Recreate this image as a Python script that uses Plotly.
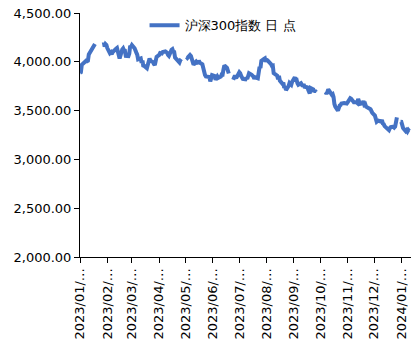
import pandas as pd
import plotly.graph_objects as go

series_name = "沪深300指数 日 点"

# Non-trading weekdays (exchange holidays)
holidays = [
    "2023-01-02", "2023-01-23", "2023-01-24", "2023-01-25", "2023-01-26", "2023-01-27",
    "2023-04-05", "2023-05-01", "2023-05-02", "2023-05-03", "2023-06-22", "2023-06-23",
    "2023-09-29", "2023-10-02", "2023-10-03", "2023-10-04", "2023-10-05", "2023-10-06",
    "2024-01-01",
]
# Long breaks shown as gaps in the line
gap_dates = ["2023-01-23", "2023-05-01", "2023-06-22", "2023-10-02", "2024-01-01"]

close_2023_01 = [3887, 3892, 3968, 3980, 4013, 4011, 4006, 4011, 4075, 4121, 4124, 4136, 4168, 4182, 4201, 4157]
close_2023_02 = [4181, 4172, 4141, 4088, 4096, 4074, 4118, 4106, 4135, 4142, 4105, 4066, 4034, 4127, 4138, 4116,
                 4114, 4061, 4058, 4085]
close_2023_03 = [4166, 4152, 4171, 4138, 4093, 4094, 4074, 4025, 4035, 3990, 4013, 3950, 3958, 3935, 3964, 3991,
                 4034, 4011, 3997, 3977, 3967, 4010, 4051]
close_2023_04 = [4071, 4090, 4086, 4100, 4106, 4099, 4093, 4070, 4060, 4122, 4129, 4104, 4101, 4044, 4020, 4013,
                 3994, 4017, 4029]
close_2023_05 = [4050, 4040, 4070, 4060, 4030, 4010, 3971, 4003, 3986, 3981, 4013, 3991, 3974, 3928, 3888, 3866,
                 3850, 3854, 3845, 3799]
close_2023_06 = [3824, 3864, 3855, 3815, 3836, 3851, 3836, 3849, 3870, 3869, 3922, 3963, 3937, 3906, 3880, 3815,
                 3850, 3859, 3841, 3842]
close_2023_07 = [3893, 3883, 3856, 3837, 3825, 3820, 3838, 3824, 3875, 3883, 3867, 3859, 3849, 3825, 3841, 3831,
                 3944, 3950, 3936, 4010, 4030]
close_2023_08 = [4035, 4000, 4020, 4015, 3990, 3976, 3958, 3961, 3884, 3865, 3858, 3822, 3857, 3807, 3775, 3786,
                 3733, 3745, 3710, 3753, 3783, 3774, 3765]
close_2023_09 = [3796, 3840, 3816, 3817, 3780, 3765, 3780, 3771, 3751, 3771, 3745, 3740, 3714, 3711, 3676, 3731,
                 3717, 3692, 3707, 3690]
close_2023_10 = [3690, 3672, 3689, 3717, 3704, 3663, 3669, 3640, 3568, 3542, 3500, 3539, 3551, 3557, 3573, 3577,
                 3573]
close_2023_11 = [3568, 3572, 3585, 3627, 3622, 3602, 3589, 3585, 3586, 3578, 3620, 3574, 3568, 3574, 3600, 3560,
                 3566, 3540, 3526, 3514, 3514, 3496]
close_2023_12 = [3478, 3449, 3400, 3386, 3394, 3398, 3387, 3403, 3367, 3361, 3341, 3322, 3316, 3300, 3320, 3330,
                 3336, 3326, 3336, 3414, 3431]
close_2024_01 = [3386, 3385, 3354, 3322, 3290, 3300, 3285, 3301, 3290]

months = [
    ("2023-01", close_2023_01), ("2023-02", close_2023_02), ("2023-03", close_2023_03),
    ("2023-04", close_2023_04), ("2023-05", close_2023_05), ("2023-06", close_2023_06),
    ("2023-07", close_2023_07), ("2023-08", close_2023_08), ("2023-09", close_2023_09),
    ("2023-10", close_2023_10), ("2023-11", close_2023_11), ("2023-12", close_2023_12),
    ("2024-01", close_2024_01),
]

tick_dates = ["2023-01-03", "2023-02-03", "2023-03-03", "2023-04-03", "2023-05-03", "2023-06-03",
              "2023-07-03", "2023-08-03", "2023-09-03", "2023-10-03", "2023-11-03", "2023-12-03",
              "2024-01-03"]
tick_labels = ["2023/01/…", "2023/02/…", "2023/03/…", "2023/04/…", "2023/05/…", "2023/06/…",
               "2023/07/…", "2023/08/…", "2023/09/…", "2023/10/…", "2023/11/…", "2023/12/…",
               "2024/01/…"]
y_ticks = [2000, 2500, 3000, 3500, 4000, 4500]

hol = set(holidays)
points = []
for m, closes in months:
    start = pd.Timestamp(m + "-01")
    end = start + pd.offsets.MonthEnd(0)
    days = [d for d in pd.bdate_range(start, end) if d.strftime("%Y-%m-%d") not in hol]
    days = days[:len(closes)]
    assert len(days) == len(closes), (m, len(days), len(closes))
    points += list(zip(days, closes))
points += [(pd.Timestamp(g), None) for g in gap_dates]
points.sort(key=lambda p: p[0])
x = [p[0] for p in points]
y = [p[1] for p in points]

font_family = "DejaVu Sans"

fig = go.Figure()
fig.add_trace(go.Scatter(
    x=x, y=y, mode="lines", name=series_name,
    line=dict(color="#4472C4", width=4),
    connectgaps=False,
))

fig.update_layout(
    width=414, height=357,
    margin=dict(l=80, r=3, t=13, b=100),
    paper_bgcolor="white", plot_bgcolor="white",
    font=dict(family=font_family, size=13, color="black"),
    showlegend=True,
    legend=dict(x=0.195, y=0.95, xanchor="left", yanchor="middle",
                bgcolor="rgba(0,0,0,0)", font=dict(size=13),
                itemwidth=30),
)
fig.update_xaxes(
    type="date", range=["2023-01-03", "2024-01-14"],
    tickmode="array", tickvals=tick_dates, ticktext=tick_labels,
    tickangle=-90, ticks="outside", ticklen=5, tickcolor="black",
    showline=True, linecolor="black", linewidth=1,
    showgrid=False, zeroline=False, automargin=False,
    tickfont=dict(size=13),
)
fig.update_yaxes(
    range=[2000, 4500], tickvals=y_ticks, tickformat=",.2f",
    ticks="outside", ticklen=5, tickcolor="black",
    showline=True, linecolor="black", linewidth=1,
    showgrid=False, zeroline=False, automargin=False,
    tickfont=dict(size=13),
)

fig.write_html("out.html", config={"displayModeBar": False},
               post_script="document.body.style.margin='0';document.body.style.overflow='hidden';")
